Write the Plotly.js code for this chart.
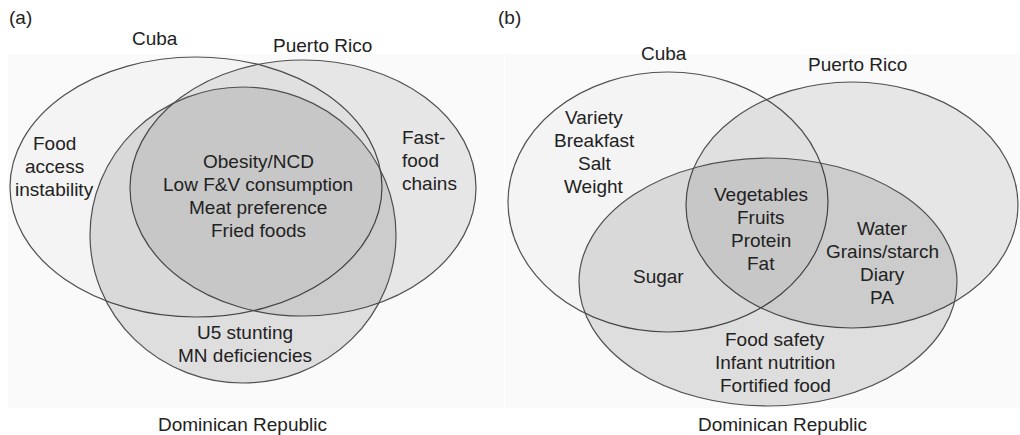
<!DOCTYPE html>
<html>
<head>
<meta charset="utf-8">
<script src="https://cdn.plot.ly/plotly-3.0.1.min.js"></script>
<style>html,body{margin:0;padding:0;background:#fff;}#chart{width:1020px;height:435px;}</style>
</head>
<body>
<div id="chart"></div>
<script>
// ---- data ----
const panelLabels = ["(a)", "(b)"];
const setNames = ["Cuba", "Puerto Rico", "Dominican Republic"];

// Panel (a): region texts
const aCubaOnly = ["Food", "access", "instability"];
const aPROnly = ["Fast-", "food", "chains"];
const aAllThree = ["Obesity/NCD", "Low F&V consumption", "Meat preference", "Fried foods"];
const aDROnly = ["U5 stunting", "MN deficiencies"];

// Panel (b): region texts
const bCubaOnly = ["Variety", "Breakfast", "Salt", "Weight"];
const bCubaDR = ["Sugar"];
const bAllThree = ["Vegetables", "Fruits", "Protein", "Fat"];
const bPRDR = ["Water", "Grains/starch", "Diary", "PA"];
const bDROnly = ["Food safety", "Infant nutrition", "Fortified food"];

// ---- layout config (geometry in pixel-like data units) ----
const ellipses = {
  a: [ {cx:196, cy:187, rx:186, ry:130}, {cx:303, cy:188, rx:173, ry:128}, {cx:243, cy:235, rx:153, ry:148} ],
  b: [ {cx:668, cy:202, rx:160, ry:130}, {cx:852, cy:205, rx:166, ry:123}, {cx:768, cy:282, rx:189, ry:124} ]
};
const fills = ["rgba(0,0,0,0.025)", "rgba(0,0,0,0.08)", "rgba(0,0,0,0.11)"];
const lineCol = "#505050";
const txtCol = "#222";
const fontFam = "Liberation Sans, Arial, sans-serif";
const FS = 19;
const LH = 23.3;

const shapes = [
  {type:"rect", xref:"x", yref:"y", x0:8, x1:504, y0:54, y1:408, fillcolor:"#fafafa", line:{width:0}, layer:"below"},
  {type:"rect", xref:"x", yref:"y", x0:505, x1:1020, y0:54, y1:408, fillcolor:"#fafafa", line:{width:0}, layer:"below"}
];
["a","b"].forEach(p => {
  ellipses[p].forEach((e, i) => {
    shapes.push({type:"circle", xref:"x", yref:"y",
      x0:e.cx-e.rx, x1:e.cx+e.rx, y0:e.cy-e.ry, y1:e.cy+e.ry,
      fillcolor:fills[i], line:{color:lineCol, width:1.2}, layer:"above"});
  });
});

const annotations = [];
function addText(lines, x, y0, xanchor) {
  lines.forEach((t, k) => {
    annotations.push({x:x, y:y0 + k*LH, xref:"x", yref:"y", text:t, showarrow:false,
      xanchor:xanchor || "center", yanchor:"middle",
      font:{family:fontFam, size:FS, color:txtCol}});
  });
}
// panel labels
addText([panelLabels[0]], 7, 17, "left");
addText([panelLabels[1]], 496, 17, "left");
// panel (a)
addText([setNames[0]], 155, 38);
addText([setNames[1]], 322, 45);
addText([setNames[2]], 242, 424);
addText(aCubaOnly, 54, 143);
addText(aPROnly, 400, 137, "left");
addText(aAllThree, 258, 161);
addText(aDROnly, 245, 332);
// panel (b)
addText([setNames[0]], 664, 53);
addText([setNames[1]], 857, 64);
addText([setNames[2]], 782, 424);
addText(bCubaOnly, 594, 117);
addText(bCubaDR, 658, 276);
addText(bAllThree, 761, 194);
addText(bPRDR, 882, 228);
addText(bDROnly, 775, 339);

const layout = {
  width:1020, height:435,
  margin:{l:0, r:0, t:0, b:0},
  paper_bgcolor:"#ffffff", plot_bgcolor:"rgba(0,0,0,0)",
  xaxis:{range:[0,1020], visible:false, fixedrange:true},
  yaxis:{range:[435,0], visible:false, fixedrange:true},
  showlegend:false,
  shapes:shapes,
  annotations:annotations
};
Plotly.newPlot("chart", [{x:[], y:[], type:"scatter", mode:"markers", hoverinfo:"skip"}], layout, {staticPlot:true, displayModeBar:false});
</script>
</body>
</html>
